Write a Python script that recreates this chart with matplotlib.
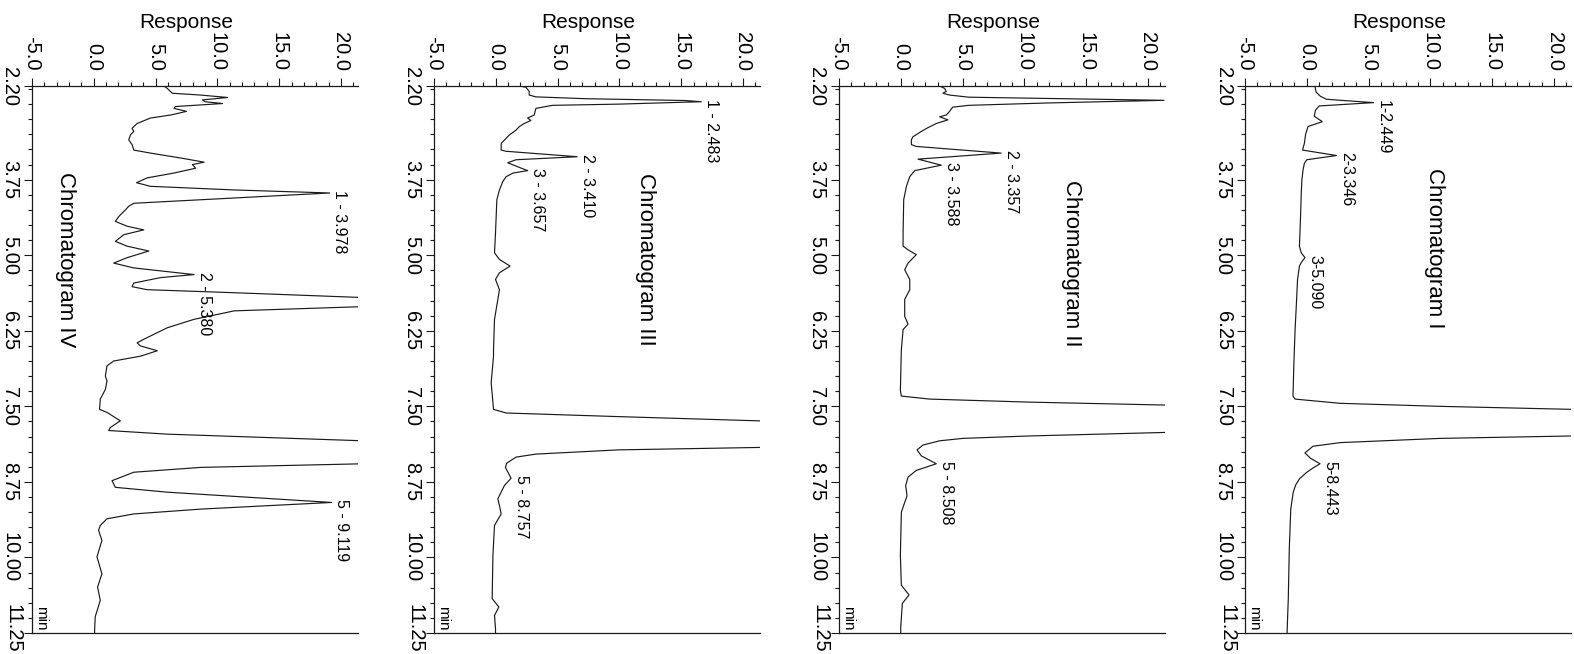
import matplotlib.pyplot as plt
from matplotlib.ticker import MultipleLocator
from matplotlib.transforms import blended_transform_factory

plt.rcParams['font.family'] = ['Liberation Sans', 'DejaVu Sans']
plt.rcParams['axes.unicode_minus'] = False

# (time in min, response); peaks that run off-scale get an estimated top
trace_I = [(2.20, 0.65), (2.30, 0.75), (2.37, 1.1), (2.42, 1.6), (2.475, 5.4), (2.53, 1.0),
           (2.60, 0.7), (2.70, 0.6), (2.79, 1.25), (2.87, 0.1), (3.00, -0.1), (3.15, -0.2),
           (3.26, -0.35), (3.35, 2.4), (3.42, 0.0), (3.48, -0.2), (3.58, -0.3), (3.75, -0.4),
           (3.97, -0.45), (4.30, -0.5), (4.60, -0.55), (4.85, -0.6), (4.96, -0.45), (5.04, -0.15),
           (5.12, -0.45), (5.18, -0.6), (5.40, -0.75), (5.95, -0.88), (6.23, -0.95), (6.80, -1.05),
           (7.33, -1.12), (7.38, -0.95), (7.45, 2.7), (7.50, 10.8), (7.55, 21.5), (7.77, 40.0),
           (7.99, 21.5), (8.03, 10.8), (8.10, 2.7), (8.16, 0.5), (8.27, -0.15), (8.36, 0.3),
           (8.45, 1.07), (8.52, 0.5), (8.59, 0.0), (8.70, -0.6), (8.80, -0.9), (8.92, -1.1),
           (9.20, -1.3), (9.86, -1.42), (10.68, -1.5), (11.25, -1.6)]

trace_II = [(2.20, 3.15), (2.24, 3.55), (2.29, 3.68), (2.32, 3.41), (2.35, 3.95), (2.385, 5.5),
            (2.437, 21.3), (2.48, 12.0), (2.52, 5.5), (2.55, 4.2), (2.62, 3.95), (2.68, 3.68),
            (2.71, 3.15), (2.76, 3.82), (2.82, 2.88), (2.90, 2.1), (2.96, 1.6), (3.04, 0.99),
            (3.09, 0.86), (3.17, 0.86), (3.20, 1.26), (3.31, 8.12), (3.41, 1.40), (3.51, 3.28),
            (3.60, 1.13), (3.70, 0.73), (3.86, 0.46), (4.08, 0.24), (4.63, 0.19), (4.85, 0.19),
            (4.91, 0.59), (4.99, 1.26), (5.13, 0.59), (5.24, 0.32), (5.40, 0.73), (5.57, 0.73),
            (5.73, 0.32), (6.01, 0.32), (6.14, 0.59), (6.23, 0.19), (6.56, 0.05), (7.24, -0.03),
            (7.33, 0.05), (7.38, 2.34), (7.43, 10.4), (7.48, 21.7), (7.70, 40.0), (7.93, 21.7),
            (7.99, 10.4), (8.03, 5.03), (8.07, 3.15), (8.14, 1.80), (8.22, 1.32), (8.32, 1.67),
            (8.45, 2.88), (8.56, 1.26), (8.67, 0.59), (8.81, 0.40), (8.98, 0.51), (9.25, 0.05),
            (9.97, -0.03), (10.46, 0.05), (10.62, 0.67), (10.76, 0.13), (11.15, 0.0), (11.25, 0.0)]

trace_III = [(2.20, 1.91), (2.22, 2.44), (2.29, 2.71), (2.35, 2.71), (2.38, 3.25), (2.41, 7.26),
             (2.44, 15.29), (2.46, 16.63), (2.50, 9.94), (2.52, 4.59), (2.57, 3.25), (2.68, 3.11),
             (2.73, 2.58), (2.77, 2.84), (2.82, 2.31), (2.87, 1.91), (2.93, 1.64), (3.01, 1.10),
             (3.15, 0.44), (3.26, 0.44), (3.28, 0.84), (3.37, 6.59), (3.42, 1.64), (3.47, 0.97),
             (3.53, 1.7), (3.60, 2.58), (3.64, 1.4), (3.70, 0.84), (3.78, 0.57), (3.92, 0.30),
             (4.08, 0.09), (4.63, -0.02), (4.96, -0.10), (5.07, 0.30), (5.18, 1.16), (5.29, 0.30),
             (5.40, -0.02), (5.57, 0.30), (5.73, 0.17), (6.06, -0.10), (6.56, -0.18), (6.67, -0.18),
             (7.11, -0.37), (7.55, -0.18), (7.61, 0.84), (7.67, 9.94), (7.74, 21.3), (7.96, 40.0),
             (8.18, 21.3), (8.22, 9.94), (8.29, 3.25), (8.34, 1.64), (8.44, 0.89), (8.51, 0.78),
             (8.69, 1.24), (8.81, 0.70), (9.03, 0.17), (9.14, 0.30), (9.28, 0.44), (9.47, -0.10),
             (9.97, -0.23), (10.68, -0.29), (10.82, 0.25), (10.96, -0.10), (11.18, -0.02), (11.25, -0.02)]

trace_IV = [(2.20, 5.68), (2.24, 5.95), (2.32, 6.36), (2.35, 8.66), (2.39, 10.83), (2.43, 8.8),
            (2.46, 9.0), (2.49, 10.42), (2.54, 6.6), (2.57, 6.49), (2.62, 7.5), (2.68, 6.22),
            (2.73, 4.59), (2.82, 3.51), (2.90, 3.1), (2.95, 3.24), (3.01, 2.97), (3.09, 2.83),
            (3.17, 3.1), (3.26, 3.24), (3.31, 4.59), (3.39, 7.0), (3.46, 8.93), (3.50, 7.98),
            (3.56, 8.25), (3.64, 6.49), (3.72, 4.32), (3.80, 3.46), (3.86, 4.59), (3.92, 11.4),
            (3.97, 19.09), (4.14, 3.24), (4.19, 2.83), (4.25, 2.56), (4.36, 2.02), (4.44, 1.75),
            (4.52, 2.70), (4.58, 4.05), (4.66, 2.43), (4.77, 1.75), (4.85, 2.70), (4.93, 4.46),
            (5.04, 2.70), (5.13, 1.61), (5.21, 3.24), (5.32, 8.12), (5.37, 5.41), (5.46, 3.24),
            (5.52, 3.1), (5.57, 4.32), (5.62, 11.37), (5.70, 21.8), (5.775, 40.0), (5.85, 21.8),
            (5.92, 11.37), (6.06, 8.12), (6.20, 5.95), (6.39, 4.05), (6.45, 3.51), (6.50, 3.78),
            (6.58, 5.14), (6.67, 3.78), (6.75, 1.61), (6.83, 1.07), (7.00, 0.94), (7.08, 1.07),
            (7.22, 0.94), (7.38, 0.53), (7.55, 0.47), (7.60, 1.07), (7.74, 2.15), (7.85, 1.34),
            (7.90, 1.21), (7.96, 5.95), (8.07, 21.8), (8.26, 40.0), (8.45, 21.8), (8.51, 8.66),
            (8.59, 3.24), (8.73, 1.48), (8.84, 1.75), (8.92, 5.95), (9.09, 19.23), (9.20, 8.66),
            (9.28, 3.24), (9.36, 1.07), (9.47, 0.53), (9.55, 0.39), (9.72, 0.66), (9.99, 0.26),
            (10.27, 0.66), (10.49, 0.31), (10.71, 0.53), (10.98, 0.12), (11.20, 0.07), (11.25, 0.07)]

# peak labels: (text, apex time, apex response)
peaks_I = [('1-2.449', 2.475, 5.4), ('2-3.346', 3.35, 2.4), ('3-5.090', 5.04, -0.15),
           ('5-8.443', 8.45, 1.07)]
peaks_II = [('2 - 3.357', 3.31, 8.12), ('3 - 3.588', 3.51, 3.28), ('5 - 8.508', 8.45, 2.88)]
peaks_III = [('1 - 2.483', 2.46, 16.63), ('2 - 3.410', 3.37, 6.59), ('3 - 3.657', 3.60, 2.58),
             ('5 - 8.757', 8.69, 1.24)]
peaks_IV = [('1 - 3.978', 3.97, 19.09), ('2 - 5.380', 5.32, 8.12), ('5 - 9.119', 9.09, 19.23)]

titles = ['Chromatogram I', 'Chromatogram II', 'Chromatogram III', 'Chromatogram IV']
title_pos = [(10.3, 3.55), (13.8, 3.75), (12.1, 3.64), (-2.3, 3.62)]

time_ticks = [2.20, 3.75, 5.00, 6.25, 7.50, 8.75, 10.00, 11.25]
time_labels = ['2.20', '3.75', '5.00', '6.25', '7.50', '8.75', '10.00', '']
last_time_label = '11.25'
resp_ticks = [-5.0, 0.0, 5.0, 10.0, 15.0, 20.0]
resp_labels = ['-5.0', '0.0', '5.0', '10.0', '15.0', '20.0']

ink = '#1a1a1a'
fig = plt.figure(figsize=(15.74, 6.54), dpi=100)
lefts = [0.7910, 0.5330, 0.2757, 0.0203]


def draw_panel(ax, trace, peaks, title, tpos):
    t = [p[0] for p in trace]
    r = [p[1] for p in trace]
    ax.plot(r, t, color=ink, lw=0.85)
    ax.set_xlim(-5, 21.4)
    ax.set_ylim(11.25, 2.20)

    ax.spines['right'].set_visible(False)
    for s in ['top', 'left', 'bottom']:
        ax.spines[s].set_linewidth(0.9)
        ax.spines[s].set_color(ink)

    ax.xaxis.tick_top()
    ax.set_xticks(resp_ticks)
    ax.set_xticklabels(resp_labels, rotation=-90, ha='center', va='bottom')
    ax.xaxis.set_minor_locator(MultipleLocator(1))
    ax.set_yticks(time_ticks)
    ax.set_yticklabels(time_labels, rotation=-90, ha='right', va='center')
    ax.yaxis.set_minor_locator(MultipleLocator(0.25))
    ax.tick_params(which='major', length=6, width=0.8, color=ink, labelsize=14.5)
    ax.tick_params(which='minor', length=3, width=0.8, color=ink)
    ax.tick_params(axis='x', which='major', pad=5)
    ax.tick_params(axis='y', which='major', pad=3)

    # last time label sits on the page edge; nudge it up so it stays whole
    ytrans = blended_transform_factory(ax.transAxes, ax.transData)
    ax.text(-0.0275, 11.18, last_time_label, transform=ytrans, rotation=-90,
            ha='right', va='center', fontsize=14.5, clip_on=False)

    trans = blended_transform_factory(ax.transData, ax.transAxes)
    ax.text(7.5, 1.117, 'Response', transform=trans, ha='center', va='center',
            fontsize=15, clip_on=False)
    ax.text(-4.3, 10.8, 'min', rotation=-90, ha='center', va='top', fontsize=11)

    for label, pt, pr in peaks:
        ax.text(pr + 0.2, pt - 0.05, label, rotation=-90, ha='left', va='top', fontsize=11.5)
    ax.text(tpos[0], tpos[1], title, rotation=-90, ha='center', va='top', fontsize=16)


traces = [trace_I, trace_II, trace_III, trace_IV]
peak_sets = [peaks_I, peaks_II, peaks_III, peaks_IV]
for i in range(4):
    ax = fig.add_axes([lefts[i], 0.0321, 0.2073, 0.8364])
    draw_panel(ax, traces[i], peak_sets[i], titles[i], title_pos[i])

plt.savefig('out.png', dpi=100, facecolor='white')
